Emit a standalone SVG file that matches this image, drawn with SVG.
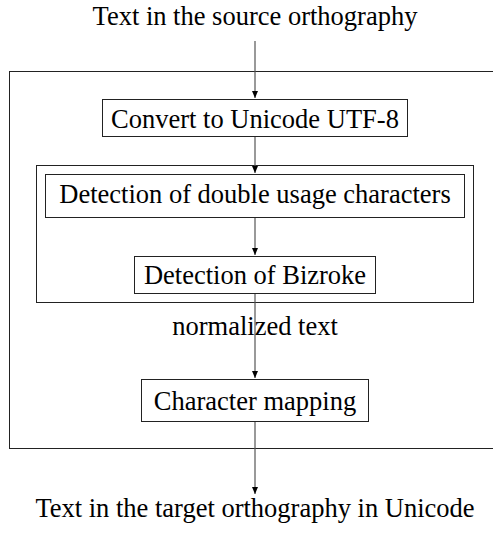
<svg xmlns="http://www.w3.org/2000/svg" width="493" height="536" viewBox="0 0 493 536">
<style>
text{font-family:"Liberation Serif","DejaVu Serif",serif;font-size:26.5px;fill:#000;text-anchor:middle}
.box{fill:#fff;stroke:#222;stroke-width:1}
.grp{fill:none;stroke:#222;stroke-width:1}
.edge{stroke:#555;stroke-width:1.2;fill:none}
</style>
<defs>
<marker id="ah" markerWidth="8" markerHeight="10" refX="7" refY="4" orient="auto" markerUnits="userSpaceOnUse" viewBox="0 0 8 8">
<path d="M0,1 L7,4 L0,7 Z" fill="#000"/>
</marker>
</defs>
<rect id="outer" class="grp" x="9.5" y="71.5" width="490" height="377"/>
<rect id="inner" class="grp" x="36.5" y="165.5" width="437" height="137"/>
<g id="connectors">
<line class="edge" x1="255" y1="41" x2="255" y2="98" marker-end="url(#ah)"/>
<line class="edge" x1="255" y1="136" x2="255" y2="173" marker-end="url(#ah)"/>
<line class="edge" x1="255" y1="217" x2="255" y2="255" marker-end="url(#ah)"/>
<line class="edge" x1="255" y1="293" x2="255" y2="378" marker-end="url(#ah)"/>
<line class="edge" x1="255" y1="421" x2="255" y2="494" marker-end="url(#ah)"/>
</g>
<g id="src"><text x="255" y="25">Text in the source orthography</text></g>
<g id="convert"><rect class="box" x="102.5" y="99.5" width="305" height="37"/><text x="255" y="128">Convert to Unicode UTF-8</text></g>
<g id="double"><rect class="box" x="45.5" y="174.5" width="419" height="43"/><text x="255" y="203">Detection of double usage characters</text></g>
<g id="bizroke"><rect class="box" x="134.5" y="256.5" width="241" height="37"/><text x="255" y="284">Detection of Bizroke</text></g>
<g id="norm"><text x="255" y="335">normalized text</text></g>
<g id="mapping"><rect class="box" x="141.5" y="379.5" width="227" height="42"/><text x="255" y="410">Character mapping</text></g>
<g id="tgt"><text x="255" y="517">Text in the target orthography in Unicode</text></g>
</svg>
